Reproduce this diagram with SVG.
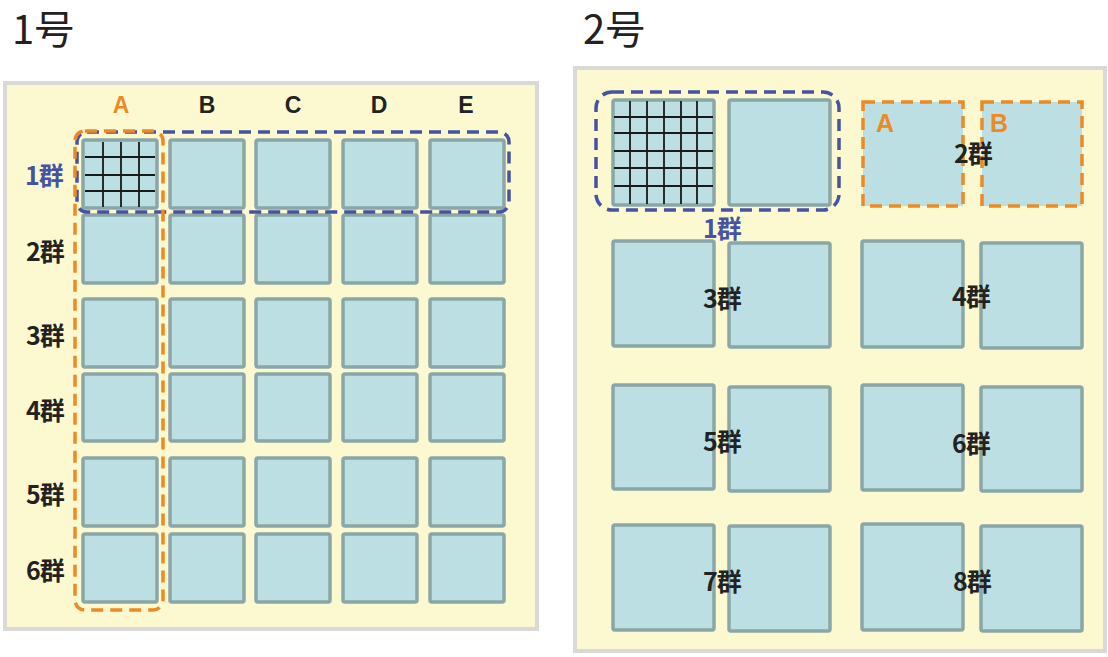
<svg xmlns="http://www.w3.org/2000/svg" width="1108" height="657" viewBox="0 0 1108 657">
<style>
.panel{fill:#fcf8cf;stroke:#d9d9d9;stroke-width:4}
.cell{fill:#bcdfe3;stroke:#8aa6a7;stroke-width:3.5}
.grid{stroke:#1a1a1a;stroke-width:1.8;fill:none}
.title{font-family:"Noto Sans CJK JP","Liberation Sans",sans-serif;font-size:40px;fill:#222}
.lbl{font-family:"Noto Sans CJK JP","Liberation Sans",sans-serif;font-size:25px;font-weight:bold;fill:#222;text-anchor:middle;letter-spacing:-1px}
.col{font-family:"Liberation Sans",sans-serif;font-size:23px;font-weight:bold;fill:#222;text-anchor:middle}
.colB{font-family:"Liberation Sans",sans-serif;font-size:25px;font-weight:bold;text-anchor:middle}
.blue{fill:#4653a3}
.orange{fill:#ec8a25}
.dashB{fill:none;stroke:#4653a3;stroke-width:3.5;stroke-dasharray:12 7}
.dashO{fill:none;stroke:#ec8a25;stroke-width:3.5;stroke-dasharray:12 7}
</style>
<text class="title" x="12" y="44">1号</text>
<text class="title" x="583" y="44">2号</text>

<g id="panel1">
<rect class="panel" x="5" y="83" width="532" height="546"/>
</g>
<g id="panel2">
<rect class="panel" x="575" y="68" width="530" height="583"/>
</g>

<g id="left-cells">
<rect class="cell" x="83" y="140" width="74" height="68" rx="2"/>
<rect class="cell" x="170" y="140" width="74" height="68" rx="2"/>
<rect class="cell" x="256" y="140" width="74" height="68" rx="2"/>
<rect class="cell" x="343" y="140" width="74" height="68" rx="2"/>
<rect class="cell" x="430" y="140" width="74" height="68" rx="2"/>

<rect class="cell" x="83" y="215" width="74" height="68" rx="2"/>
<rect class="cell" x="170" y="215" width="74" height="68" rx="2"/>
<rect class="cell" x="256" y="215" width="74" height="68" rx="2"/>
<rect class="cell" x="343" y="215" width="74" height="68" rx="2"/>
<rect class="cell" x="430" y="215" width="74" height="68" rx="2"/>

<rect class="cell" x="83" y="299" width="74" height="68" rx="2"/>
<rect class="cell" x="170" y="299" width="74" height="68" rx="2"/>
<rect class="cell" x="256" y="299" width="74" height="68" rx="2"/>
<rect class="cell" x="343" y="299" width="74" height="68" rx="2"/>
<rect class="cell" x="430" y="299" width="74" height="68" rx="2"/>

<rect class="cell" x="83" y="374" width="74" height="67" rx="2"/>
<rect class="cell" x="170" y="374" width="74" height="67" rx="2"/>
<rect class="cell" x="256" y="374" width="74" height="67" rx="2"/>
<rect class="cell" x="343" y="374" width="74" height="67" rx="2"/>
<rect class="cell" x="430" y="374" width="74" height="67" rx="2"/>

<rect class="cell" x="83" y="458" width="74" height="68" rx="2"/>
<rect class="cell" x="170" y="458" width="74" height="68" rx="2"/>
<rect class="cell" x="256" y="458" width="74" height="68" rx="2"/>
<rect class="cell" x="343" y="458" width="74" height="68" rx="2"/>
<rect class="cell" x="430" y="458" width="74" height="68" rx="2"/>

<rect class="cell" x="83" y="534" width="74" height="68" rx="2"/>
<rect class="cell" x="170" y="534" width="74" height="68" rx="2"/>
<rect class="cell" x="256" y="534" width="74" height="68" rx="2"/>
<rect class="cell" x="343" y="534" width="74" height="68" rx="2"/>
<rect class="cell" x="430" y="534" width="74" height="68" rx="2"/>

<path class="grid" d="M103 142V207M121 142V207M139 142V207M85 157H155M85 175H155M85 191H155"/>
</g>

<g id="left-labels">
<text class="col orange" x="121" y="113">A</text>
<text class="col" x="207" y="113">B</text>
<text class="col" x="293" y="113">C</text>
<text class="col" x="379" y="113">D</text>
<text class="col" x="466" y="113">E</text>
<text class="lbl blue" x="44" y="185">1群</text>
<text class="lbl" x="45" y="261">2群</text>
<text class="lbl" x="45" y="345">3群</text>
<text class="lbl" x="45" y="420">4群</text>
<text class="lbl" x="45" y="504">5群</text>
<text class="lbl" x="45" y="580">6群</text>
</g>

<g id="left-groups">
<rect class="dashB" x="77" y="132" width="432" height="80" rx="10"/>
<rect class="dashO" x="75" y="131" width="88" height="479" rx="10"/>
</g>

<g id="right-cells">
<rect class="cell" x="613" y="100" width="101" height="105" rx="2"/>
<path class="grid" d="M630 101V204M647 101V204M664 101V204M681 101V204M697 101V204M614 117H713M614 133H713M614 151H713M614 168H713M614 186H713"/>
<rect class="cell" x="729" y="100" width="101" height="105" rx="2"/>
<rect x="863" y="102" width="100" height="104" fill="#bcdfe3"/>
<rect x="982" y="102" width="100" height="104" fill="#bcdfe3"/>

<rect class="cell" x="613" y="241" width="101" height="105" rx="2"/>
<rect class="cell" x="729" y="243" width="101" height="104" rx="2"/>
<rect class="cell" x="862" y="241" width="101" height="106" rx="2"/>
<rect class="cell" x="981" y="243" width="101" height="105" rx="2"/>

<rect class="cell" x="613" y="385" width="101" height="104" rx="2"/>
<rect class="cell" x="729" y="387" width="101" height="104" rx="2"/>
<rect class="cell" x="862" y="385" width="101" height="105" rx="2"/>
<rect class="cell" x="981" y="387" width="101" height="104" rx="2"/>

<rect class="cell" x="613" y="525" width="101" height="105" rx="2"/>
<rect class="cell" x="729" y="526" width="101" height="105" rx="2"/>
<rect class="cell" x="862" y="524" width="101" height="106" rx="2"/>
<rect class="cell" x="981" y="526" width="101" height="105" rx="2"/>
</g>

<g id="right-groups">
<rect class="dashB" x="596" y="92" width="243" height="118" rx="16"/>
<rect class="dashO" x="863" y="102" width="100" height="104"/>
<rect class="dashO" x="982" y="102" width="100" height="104"/>
</g>

<g id="right-labels">
<text class="lbl blue" x="722" y="238">1群</text>
<text class="colB orange" x="885" y="132">A</text>
<text class="colB orange" x="999" y="132">B</text>
<text class="lbl" x="973" y="163">2群</text>
<text class="lbl" x="722" y="308">3群</text>
<text class="lbl" x="971" y="306">4群</text>
<text class="lbl" x="722" y="451">5群</text>
<text class="lbl" x="971" y="453">6群</text>
<text class="lbl" x="722" y="591">7群</text>
<text class="lbl" x="972" y="591">8群</text>
</g>
</svg>
